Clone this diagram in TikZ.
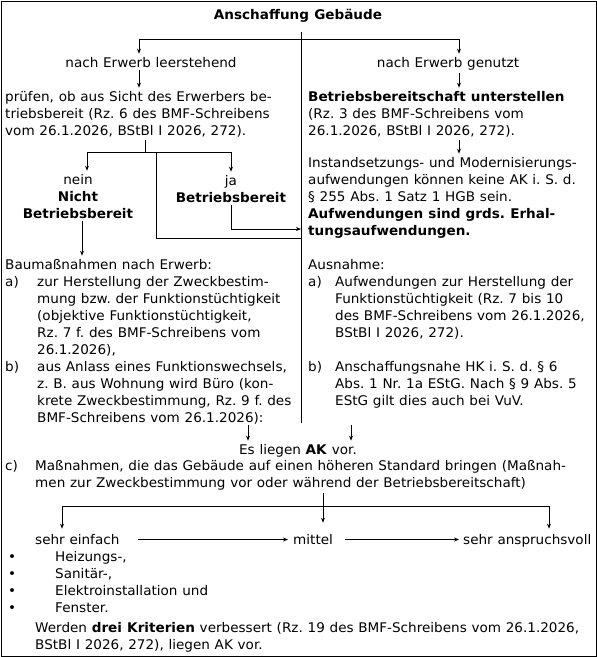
\documentclass[tikz,border=0pt]{standalone}
\usepackage{fontspec}
\setmainfont[WordSpace=1.1, FakeStretch=1.02]{DejaVu Sans}
\usetikzlibrary{positioning,arrows.meta,calc}
\frenchspacing
\tikzset{%
	txt/.style  = {inner xsep=0pt, inner ysep=3pt, anchor=base west, align=left,
		font=\fontsize{13.3}{17}\selectfont},
	ctxt/.style = {txt, anchor=base, align=center},
	conn/.style = {line width=0.8pt},
	arr/.style  = {conn, -{Stealth[length=5pt,width=4pt]}}
}

\begin{document}
\begin{tikzpicture}[x=1pt, y=-1pt]
	\useasboundingbox (0,0) rectangle (597,657);
	\draw[line width=0.9pt] (1,1) rectangle (596,656);

	% head (multi-line nodes sit on their last line)
	\node[ctxt] (title) at (298,19) {\textbf{Anschaffung Gebäude}};
	\node[ctxt] (leer) at (151,67) {nach Erwerb leerstehend};
	\node[ctxt] (genutzt) at (448,67) {nach Erwerb genutzt};

	% left column
	\node[txt] (pruef) at (5,135) {prüfen, ob aus Sicht des Erwerbers be-\\triebsbereit (Rz. 6 des BMF-Schreibens\\vom 26.1.2026, BStBl I 2026, 272).};
	\node[ctxt] (nein) at (78,218) {nein\\\textbf{Nicht}\\\textbf{Betriebsbereit}};
	\node[ctxt] (ja) at (231,202) {ja\\\textbf{Betriebsbereit}};
	\node[txt] (baum) at (5,269) {Baumaßnahmen nach Erwerb:};
	\node[txt] (la) at (5,286) {a)};
	\node[txt] (latext) at (37,354) {zur Herstellung der Zweckbestim-\\mung bzw. der Funktionstüchtigkeit\\(objektive Funktionstüchtigkeit,\\Rz. 7 f. des BMF-Schreibens vom\\26.1.2026),};
	\node[txt] (lb) at (5,371) {b)};
	\node[txt] (lbtext) at (37,422) {aus Anlass eines Funktionswechsels,\\z. B. aus Wohnung wird Büro (kon-\\krete Zweckbestimmung, Rz. 9 f. des\\BMF-Schreibens vom 26.1.2026):};

	% right column
	\node[txt] (unterst) at (308,135) {\textbf{Betriebsbereitschaft unterstellen}\\(Rz. 3 des BMF-Schreibens vom\\26.1.2026, BStBl I 2026, 272).};
	\node[txt] (instand) at (308,235) {Instandsetzungs- und Modernisierungs-\\aufwendungen können keine AK i. S. d.\\§ 255 Abs. 1 Satz 1 HGB sein.\\\textbf{Aufwendungen sind grds. Erhal-}\\\textbf{tungsaufwendungen.}};
	\node[txt] (ausn) at (308,269) {Ausnahme:};
	\node[txt] (ra) at (308,286) {a)};
	\node[txt] (ratext) at (335,337) {Aufwendungen zur Herstellung der\\Funktionstüchtigkeit (Rz. 7 bis 10\\des BMF-Schreibens vom 26.1.2026,\\BStBl I 2026, 272).};
	\node[txt] (rb) at (308,371) {b)};
	\node[txt] (rbtext) at (335,405) {Anschaffungsnahe HK i. S. d. § 6\\Abs. 1 Nr. 1a EStG. Nach § 9 Abs. 5\\EStG gilt dies auch bei VuV.};

	% bottom
	\node[ctxt] (ak) at (298,454) {Es liegen \textbf{AK} vor.};
	\node[txt] (lc) at (5,470) {c)};
	\node[txt] (lctext) at (35,487) {Maßnahmen, die das Gebäude auf einen höheren Standard bringen (Maßnah-\\men zur Zweckbestimmung vor oder während der Betriebsbereitschaft)};
	\node[txt] (einfach) at (35,544) {sehr einfach};
	\node[txt] (mittel) at (293,544) {mittel};
	\node[txt] (anspruch) at (463,544) {sehr anspruchsvoll};
	\node[txt] (bul) at (8,612) {•\\•\\•\\•};
	\node[txt] (bultext) at (55,612) {Heizungs-,\\Sanitär-,\\Elektroinstallation und\\Fenster.};
	\node[txt] (werden) at (35,649) {Werden \textbf{drei Kriterien} verbessert (Rz. 19 des BMF-Schreibens vom 26.1.2026,\\BStBl I 2026, 272), liegen AK vor.};

	% branch points
	\coordinate (vtop) at (301,32);
	\coordinate (vbot) at (301,423);
	\coordinate (hl) at (139,39);
	\coordinate (hr) at (459,39);
	\coordinate (pb) at (145,152);
	\coordinate (bn) at (87,152);
	\coordinate (bj) at (231,152);
	\coordinate (bk) at (156,152);
	\coordinate (kj) at (301,238);
	\coordinate (jj) at (301,229);
	\coordinate (xn) at (82,0);
	\coordinate (akl) at (248,425);
	\coordinate (akr) at (351,425);
	\coordinate (cm) at (323,506);
	\coordinate (cl) at (62,506);
	\coordinate (cr) at (549,506);

	\draw[conn] (vtop) -- (vbot);
	\draw[conn] (hl) -- (hr);
	\draw[arr] (hl) -- (hl |- leer.north);
	\draw[arr] (hr) -- (hr |- genutzt.north);
	\draw[arr] (leer.south -| hl) -- (pruef.north -| hl);
	\draw[arr] (genutzt.south -| hr) -- (unterst.north -| hr);
	\draw[arr] (unterst.south -| hr) -- (instand.north -| hr);

	\draw[conn] (pruef.south -| pb) -- (pb);
	\draw[conn] (bn) -- (bj);
	\draw[arr] (bn) -- (bn |- nein.north);
	\draw[arr] (bj) -- (ja.north);
	\draw[conn] (bk) |- (kj);
	\draw[arr] (ja.south) |- (jj);
	\draw[arr] (nein.south -| xn) -- (baum.north -| xn);

	\draw[arr] (akl) -- (akl |- ak.north);
	\draw[arr] (akr) -- (akr |- ak.north);

	\draw[arr] (lctext.south -| cm) -- ([yshift=8pt]mittel.north -| cm);
	\draw[conn] (cl) -- (cr);
	\draw[arr] (cl) -- ([yshift=2pt]einfach.north -| cl);
	\draw[arr] (cr) -- ([yshift=2pt]anspruch.north -| cr);
	\draw[arr] ([xshift=18pt, yshift=4.5pt]einfach.base east) -- ([xshift=-5pt, yshift=4.5pt]mittel.base west);
	\draw[arr] ([xshift=12pt, yshift=4.5pt]mittel.base east) -- ([xshift=-4pt, yshift=4.5pt]anspruch.base west);
\end{tikzpicture}
\end{document}
